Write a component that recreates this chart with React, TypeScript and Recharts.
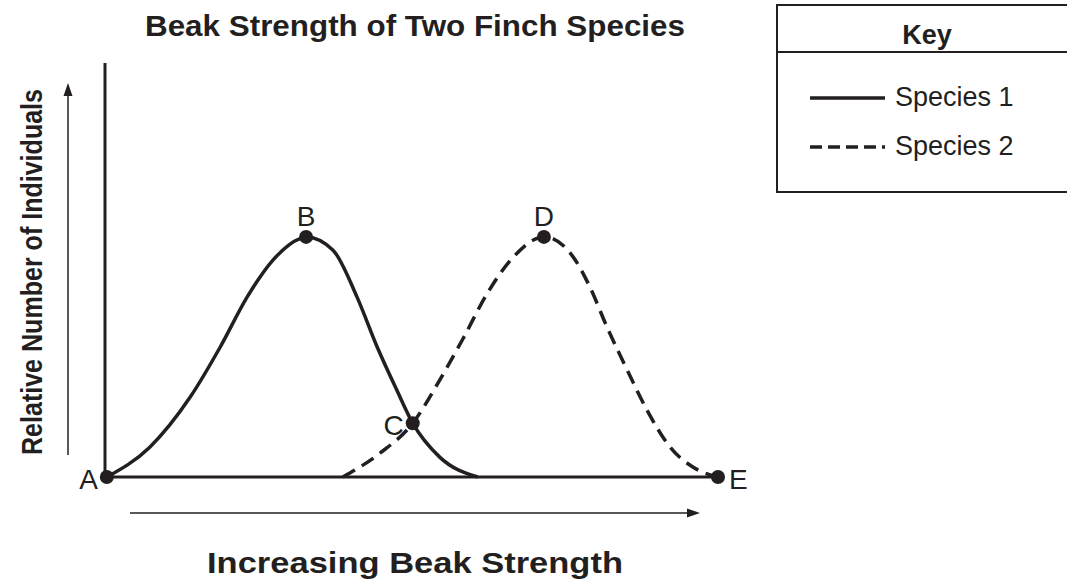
import React from 'react';
import { ComposedChart, Line, Scatter, XAxis, YAxis, Legend } from 'recharts';

// Species 1 curve (beak strength -> relative number)
const species1 = [
  { x: 0.3, y: 0 },
  { x: 7.3, y: 7.2 },
  { x: 13.9, y: 19.3 },
  { x: 18.8, y: 31.4 },
  { x: 23.2, y: 43.5 },
  { x: 27.4, y: 52.4 },
  { x: 31.8, y: 57.6 },
  { x: 32.8, y: 58 },
  { x: 37.2, y: 54.8 },
  { x: 41.1, y: 43.5 },
  { x: 44.4, y: 31.4 },
  { x: 47.6, y: 21 },
  { x: 50.2, y: 13 },
  { x: 54.6, y: 4.8 },
  { x: 60.8, y: 0 },
];

// Species 2 curve
const species2 = [
  { x: 38.8, y: 0 },
  { x: 44.9, y: 5.8 },
  { x: 50.2, y: 13 },
  { x: 54.6, y: 23.4 },
  { x: 58.4, y: 33.4 },
  { x: 62.3, y: 44.2 },
  { x: 66.6, y: 53.1 },
  { x: 71.6, y: 58 },
  { x: 75.9, y: 54.1 },
  { x: 79.1, y: 45.9 },
  { x: 81.9, y: 36.2 },
  { x: 85.2, y: 25.8 },
  { x: 88.4, y: 16.2 },
  { x: 92.2, y: 7.2 },
  { x: 95.9, y: 2.4 },
  { x: 100, y: 0 },
];

const keyPoints = [
  { name: 'A', x: 0.3, y: 0 },
  { name: 'B', x: 32.8, y: 58 },
  { name: 'C', x: 50.2, y: 13 },
  { name: 'D', x: 71.6, y: 58 },
  { name: 'E', x: 100, y: 0 },
];

const labelSide: Record<string, string> = { A: 'left', B: 'top', C: 'left', D: 'top', E: 'right' };

const INK = '#231f20';
const FONT = '"Liberation Sans", Arial, Helvetica, sans-serif';

const PointShape = (props: any) => {
  const { cx, cy, payload } = props;
  const side = labelSide[payload.name];
  let tx = cx;
  let ty = cy;
  let anchor: 'start' | 'middle' | 'end' = 'middle';
  if (side === 'left') { tx = cx - 9; ty = cy + 12; anchor = 'end'; }
  if (side === 'right') { tx = cx + 11; ty = cy + 12; anchor = 'start'; }
  if (side === 'top') { ty = cy - 11; }
  return (
    <g>
      <circle cx={cx} cy={cy} r={7} fill={INK} />
      <text x={tx} y={ty} textAnchor={anchor} fontFamily={FONT} fontSize={28} fill={INK}>
        {payload.name}
      </text>
    </g>
  );
};

const KeyBox = () => (
  <svg width={300} height={200} style={{ position: 'absolute', left: 770, top: 0 }}>
    <rect x={7} y={5} width={320} height={187} fill="none" stroke={INK} strokeWidth={2} />
    <line x1={7} y1={52} x2={300} y2={52} stroke={INK} strokeWidth={2} />
    <text x={157} y={44} textAnchor="middle" fontFamily={FONT} fontWeight="bold" fontSize={27} fill={INK}>Key</text>
    <line x1={40} y1={98} x2={115} y2={98} stroke={INK} strokeWidth={3.3} />
    <text x={125} y={106} fontFamily={FONT} fontSize={27} fill={INK}>Species 1</text>
    <line x1={40} y1={147} x2={115} y2={147} stroke={INK} strokeWidth={3.3} strokeDasharray="12 6" />
    <text x={125} y={155} fontFamily={FONT} fontSize={27} fill={INK}>Species 2</text>
  </svg>
);

export default function App() {
  return (
    <div style={{ position: 'absolute', left: 0, top: 0, width: 1067, height: 582, background: '#fff' }}>
      <ComposedChart width={1067} height={582} margin={{ top: 63, right: 349, bottom: 104, left: 104 }}>
        <XAxis
          type="number"
          dataKey="x"
          domain={[0, 100]}
          height={1}
          tick={false}
          tickLine={false}
          axisLine={{ stroke: INK, strokeWidth: 3 }}
        />
        <YAxis
          type="number"
          dataKey="y"
          domain={[0, 100]}
          width={1}
          tick={false}
          tickLine={false}
          axisLine={{ stroke: INK, strokeWidth: 3 }}
        />
        <Legend content={() => <KeyBox />} wrapperStyle={{ position: 'absolute', left: 0, top: 0, width: 0, height: 0 }} />
        <Line data={species1} dataKey="y" type="monotone" stroke={INK} strokeWidth={3.5} dot={false} isAnimationActive={false} />
        <Line
          data={species2}
          dataKey="y"
          type="monotone"
          stroke={INK}
          strokeWidth={3.5}
          strokeDasharray="14 8"
          dot={false}
          isAnimationActive={false}
        />
        <Scatter data={keyPoints} dataKey="y" shape={PointShape} isAnimationActive={false} />
      </ComposedChart>
      <svg width={1067} height={582} style={{ position: 'absolute', left: 0, top: 0, pointerEvents: 'none' }}>
        <text x={415} y={36} textAnchor="middle" fontFamily={FONT} fontWeight="bold" fontSize={30} fill={INK} textLength={540} lengthAdjust="spacingAndGlyphs">
          Beak Strength of Two Finch Species
        </text>
        <text x={415} y={573} textAnchor="middle" fontFamily={FONT} fontWeight="bold" fontSize={30} fill={INK} textLength={416} lengthAdjust="spacingAndGlyphs">
          Increasing Beak Strength
        </text>
        <text
          x={0}
          y={0}
          transform="translate(42,272) rotate(-90)"
          textAnchor="middle"
          fontFamily={FONT}
          fontWeight="bold"
          fontSize={30}
          fill={INK}
          textLength={366}
          lengthAdjust="spacingAndGlyphs"
        >
          Relative Number of Individuals
        </text>
        <line x1={68} y1={455} x2={68} y2={92} stroke={INK} strokeWidth={1.5} />
        <polygon points="68,83 63.5,96 72.5,96" fill={INK} />
        <line x1={130} y1={513} x2={690} y2={513} stroke={INK} strokeWidth={1.5} />
        <polygon points="700,513 687,508.5 687,517.5" fill={INK} />
      </svg>
    </div>
  );
}
